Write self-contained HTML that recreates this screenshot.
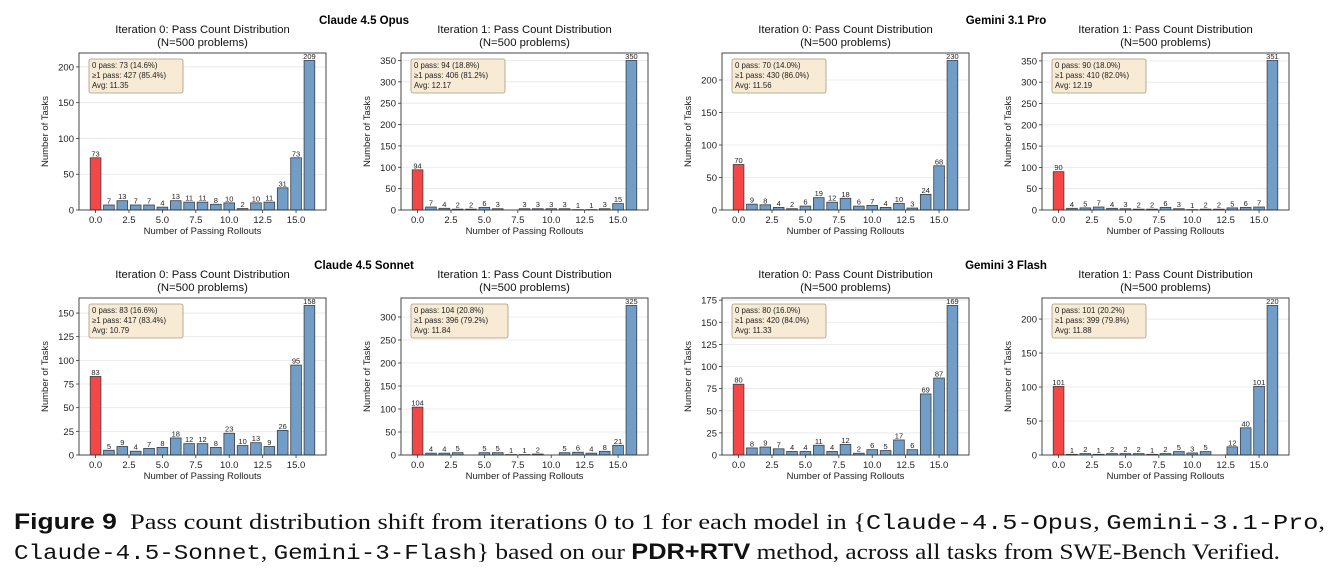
<!DOCTYPE html>
<html><head><meta charset="utf-8"><style>
body{margin:0;background:#fff;width:1338px;height:575px;overflow:hidden;position:relative;font-family:"Liberation Sans","DejaVu Sans",sans-serif}
.capline{position:absolute;left:14px;font-family:"Liberation Serif","DejaVu Serif",serif;font-size:22px;line-height:28px;color:#111;white-space:nowrap;transform-origin:0 0}
.capline b{font-family:"Liberation Sans",sans-serif;font-weight:bold}
.tt{font-family:"Liberation Mono",monospace;font-size:21px}
</style></head><body>
<svg id="fig" width="1338" height="500" style="position:absolute;left:0;top:0"></svg>
<div id="cap1" class="capline" style="top:508px"><b>Figure 9</b>&nbsp; Pass count distribution shift from iterations 0 to 1 for each model in {<span class="tt">Claude-4.5-Opus</span>, <span class="tt">Gemini-3.1-Pro</span>,</div>
<div id="cap2" class="capline" style="top:538px"><span class="tt">Claude-4.5-Sonnet</span>, <span class="tt">Gemini-3-Flash</span>} based on our <b>PDR+RTV</b> method, across all tasks from SWE-Bench Verified.</div>
<script>
const opus0=[73,7,13,7,7,4,13,11,11,8,10,2,10,11,31,73,209];
const opus1=[94,7,4,2,2,6,3,0,3,3,3,3,1,1,3,15,350];
const pro0=[70,9,8,4,2,6,19,12,18,6,7,4,10,3,24,68,230];
const pro1=[90,4,5,7,4,3,2,2,6,3,1,2,2,5,6,7,351];
const sonnet0=[83,5,9,4,7,8,18,12,12,8,23,10,13,9,26,95,158];
const sonnet1=[104,4,4,5,0,5,5,1,1,2,0,5,6,4,8,21,325];
const flash0=[80,8,9,7,4,4,11,4,12,2,6,5,17,6,69,87,169];
const flash1=[101,1,2,1,2,2,2,1,2,5,3,5,0,12,40,101,220];
const xTicks=[0,2.5,5,7.5,10,12.5,15];
const xTickLabels=["0.0","2.5","5.0","7.5","10.0","12.5","15.0"];
const yStepsList=[50,50,50,50,25,50,25,50];
const statsList=[
 ["0 pass: 73 (14.6%)","≥1 pass: 427 (85.4%)","Avg: 11.35"],
 ["0 pass: 94 (18.8%)","≥1 pass: 406 (81.2%)","Avg: 12.17"],
 ["0 pass: 70 (14.0%)","≥1 pass: 430 (86.0%)","Avg: 11.56"],
 ["0 pass: 90 (18.0%)","≥1 pass: 410 (82.0%)","Avg: 12.19"],
 ["0 pass: 83 (16.6%)","≥1 pass: 417 (83.4%)","Avg: 10.79"],
 ["0 pass: 104 (20.8%)","≥1 pass: 396 (79.2%)","Avg: 11.84"],
 ["0 pass: 80 (16.0%)","≥1 pass: 420 (84.0%)","Avg: 11.33"],
 ["0 pass: 101 (20.2%)","≥1 pass: 399 (79.8%)","Avg: 11.88"]];
const seriesList=[opus0,opus1,pro0,pro1,sonnet0,sonnet1,flash0,flash1];
const modelNames=["Claude 4.5 Opus","Gemini 3.1 Pro","Claude 4.5 Sonnet","Gemini 3 Flash"];

const NS="http://www.w3.org/2000/svg";
const fig=document.getElementById('fig');
function el(tag,attrs,parent,text){const e=document.createElementNS(NS,tag);for(const k in attrs)e.setAttribute(k,attrs[k]);if(text!==undefined)e.textContent=text;(parent||fig).appendChild(e);return e;}
const colX=[79,401,722,1042], rowTop=[53,298], W=247, H=157;

modelNames.forEach((n,i)=>{
  const t=el('text',{x:(i%2===0?364:1006),y:(i<2?24:269),'text-anchor':'middle','font-size':'11.5','font-weight':'bold',fill:'#000'},fig,n);
  
  
});

seriesList.forEach((data,idx)=>{
  const r=Math.floor(idx/4), c=idx%4;
  const L=colX[c], T=rowTop[r], B=T+H;
  const g=el('g',{});
  
  
  const xmin=-1.24, xmax=17.24;
  const ymax=Math.max(...data)*1.05;
  const xs=v=>L+(v-xmin)/(xmax-xmin)*W;
  const ys=v=>B-v/ymax*H;
  const it=(c%2===0)?0:1;
  el('text',{x:L+W/2,y:T-20,'text-anchor':'middle','font-size':'11.3',fill:'#111'},g,'Iteration '+it+': Pass Count Distribution');
  el('text',{x:L+W/2,y:T-7,'text-anchor':'middle','font-size':'11.3',fill:'#111'},g,'(N=500 problems)');
  const step=yStepsList[idx];
  for(let v=0;v<=ymax;v+=step){
    const y=ys(v);
    if(v>0) el('line',{x1:L,x2:L+W,y1:y,y2:y,stroke:'#e6e6e6','stroke-width':0.8},g);
    el('line',{x1:L-3,x2:L,y1:y,y2:y,stroke:'#333','stroke-width':0.8},g);
    el('text',{x:L-5,y:y+3.5,'text-anchor':'end','font-size':'9.5',fill:'#222'},g,String(v));
  }
  data.forEach((v,i)=>{
    const b=el('rect',{x:xs(i-0.4),y:ys(v),width:xs(i+0.4)-xs(i-0.4),height:B-ys(v),fill:i===0?'#f44848':'#719dc6',stroke:'#3a3f45','stroke-width':0.8},g);
    
    
    if(v>0) el('text',{x:xs(i),y:ys(v)-1.5,'text-anchor':'middle','font-size':'7.5',fill:'#222'},g,String(v));
  });
  el('rect',{x:L,y:T,width:W,height:H,fill:'none',stroke:'#333','stroke-width':0.9},g);
  xTicks.forEach((v,i)=>{
    const x=xs(v);
    el('line',{x1:x,x2:x,y1:B,y2:B+3,stroke:'#333','stroke-width':0.8},g);
    el('text',{x:x,y:B+13,'text-anchor':'middle','font-size':'9.5',fill:'#222'},g,xTickLabels[i]);
  });
  el('text',{x:L+W/2,y:B+24,'text-anchor':'middle','font-size':'9.5',fill:'#222'},g,'Number of Passing Rollouts');
  const yl=el('text',{x:0,y:0,'text-anchor':'middle','font-size':'9.5',fill:'#222',transform:`translate(${L-31},${T+H/2}) rotate(-90)`},g,'Number of Tasks');
  
  
  const box=el('g',{},g);
  
  
  el('rect',{x:L+10,y:T+6,width:r===1&&c===1?97:94,height:34,rx:2,fill:'#f7ebd6',stroke:'#a89a7e','stroke-width':0.8},box);
  statsList[idx].forEach((s,k)=>el('text',{x:L+13,y:T+15+k*10,'font-size':'7.8',fill:'#222'},box,s));
});
// stretch caption lines to match reference widths
[['cap1',1311],['cap2',1266]].forEach(([id,w])=>{
  const e=document.getElementById(id);
  const cw=e.getBoundingClientRect().width;
  if(cw>0) e.style.transform='scaleX('+(w/cw)+')';
});
</script>
</body></html>
